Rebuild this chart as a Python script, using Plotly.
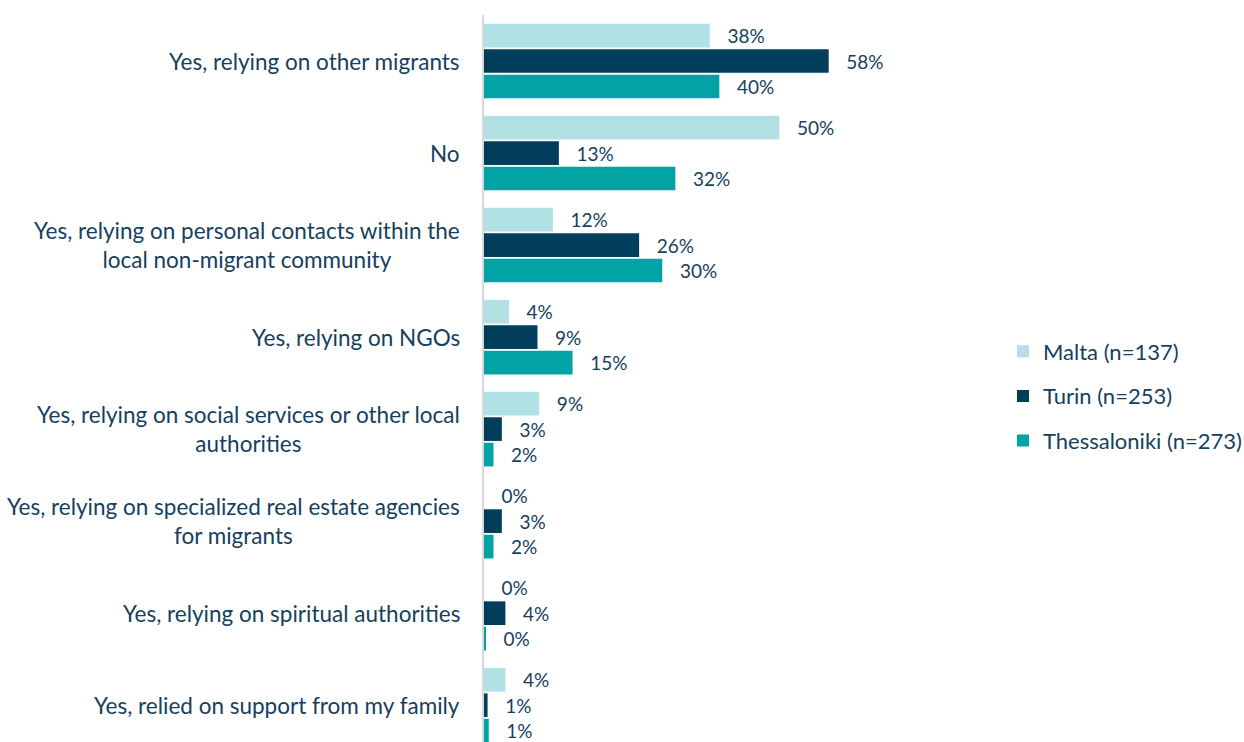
import plotly.graph_objects as go

# Survey answers, listed top to bottom
categories = [
    "Yes, relying on other migrants",
    "No",
    "Yes, relying on personal contacts within the<br>local non-migrant community",
    "Yes, relying on NGOs",
    "Yes, relying on social services or other local<br>authorities",
    "Yes, relying on specialized real estate agencies<br>for migrants",
    "Yes, relying on spiritual authorities",
    "Yes, relied on support from my family",
]

# Share of respondents (%) per city
malta = [38.0, 49.7, 11.6, 4.2, 9.3, 0.0, 0.0, 3.6]
turin = [58.0, 12.6, 26.1, 9.0, 3.0, 3.0, 3.6, 0.6]
thessaloniki = [39.6, 32.2, 30.0, 14.9, 1.6, 1.6, 0.3, 0.8]

series_names = ["Malta (n=137)", "Turin (n=253)", "Thessaloniki (n=273)"]
series_values = [malta, turin, thessaloniki]
series_colors = ["#B1E0E5", "#013E5B", "#02A3A5"]

TEXT_COLOR = "#15405E"
FONT = "Lato"

fig = go.Figure()
for name, vals, color in zip(series_names, series_values, series_colors):
    fig.add_trace(go.Bar(
        y=categories,
        x=vals,
        orientation="h",
        name=name,
        legendgroup=name,
        marker=dict(color=color, line=dict(width=0)),
        texttemplate="\u00a0\u00a0\u00a0%{x:.0f}%",
        textposition="outside",
        textfont=dict(family=FONT, size=19, color=TEXT_COLOR),
        constraintext="none",
        cliponaxis=False,
        hoverinfo="skip",
    ))

# Category labels, centred within their block and right-aligned to the axis
for cat in categories:
    fig.add_annotation(
        x=0, y=cat, xref="x", yref="y",
        text=cat, showarrow=False,
        xanchor="right", yanchor="middle", align="center",
        xshift=-22,
        font=dict(family=FONT, size=22.5, color=TEXT_COLOR),
    )

fig.update_layout(
    width=1244, height=742,
    margin=dict(l=484, r=344, t=15, b=0),
    paper_bgcolor="white", plot_bgcolor="white",
    barmode="group", bargap=0.17, bargroupgap=0.07,
    font=dict(family=FONT, color=TEXT_COLOR),
    xaxis=dict(range=[0, 70], visible=False, fixedrange=True),
    yaxis=dict(
        type="category", categoryorder="array", categoryarray=categories,
        range=[7.4, -0.5], showticklabels=False, showgrid=False,
        showline=True, linecolor="#D9D9D9", linewidth=2,
        zeroline=False, ticks="",
    ),
    legend=dict(
        xref="container", yref="container",
        x=1003 / 1244, y=1 - 396 / 742, xanchor="left", yanchor="middle",
        traceorder="grouped", tracegroupgap=13,
        font=dict(family=FONT, size=22, color=TEXT_COLOR),
        bgcolor="rgba(0,0,0,0)",
    ),
    showlegend=True,
)

fig.write_html("out.html")
